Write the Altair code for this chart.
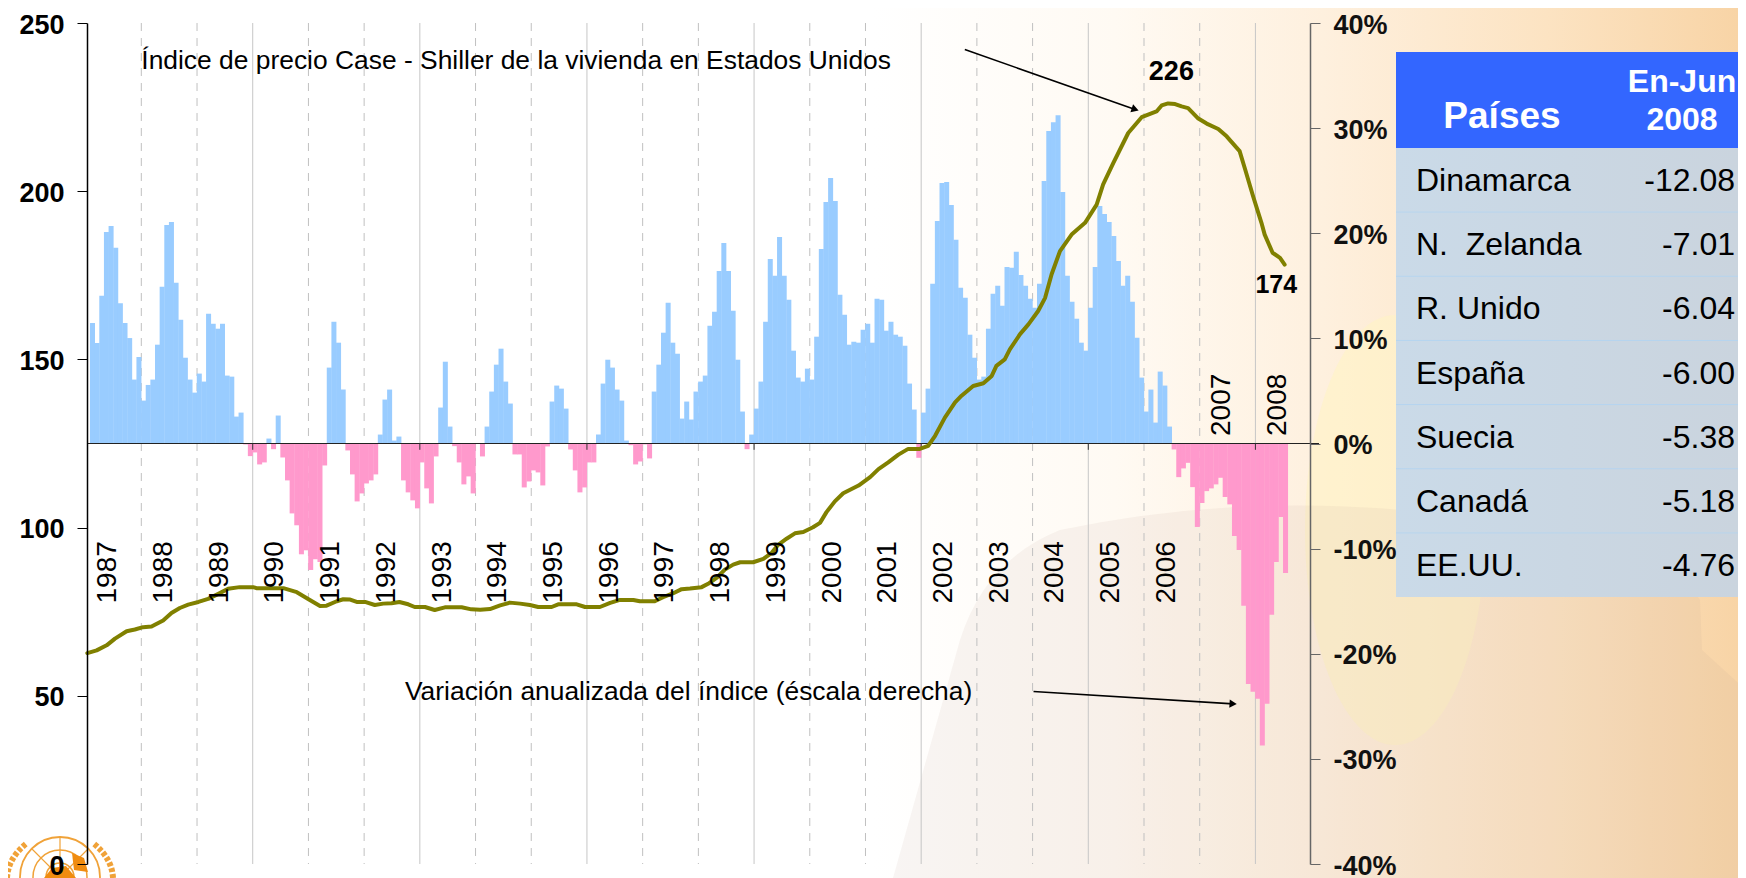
import altair as alt
import pandas as pd

# ---------- data ----------
variacion = [
 11.46,9.56,14.05,20.13,20.70,18.61,13.35,11.46,10.03,6.08,8.23,4.08,5.57,6.08,9.40,14.91,20.79,21.08,15.28,11.77,
 8.16,6.08,4.84,6.65,5.89,12.34,11.39,10.92,11.39,6.46,6.36,2.56,2.94,-0.09,-1.20,-0.85,-1.99,-1.80,0.47,-0.54,
 2.66,-1.33,-3.51,-6.65,-7.78,-10.54,-10.16,-12.03,-11.01,-11.27,-2.09,7.22,11.58,9.59,5.13,-0.66,-2.94,-5.51,-4.75,-3.80,
 -3.51,-2.94,0.85,4.18,5.13,0.28,0.66,-3.51,-4.65,-5.41,-6.17,-1.80,-4.27,-5.70,-1.23,3.42,7.78,1.61,-0.25,-1.80,
 -3.89,-3.13,-4.75,0,-1.23,1.61,4.94,7.50,9.02,5.89,3.80,-1.04,-1.04,-4.18,-3.61,-2.56,-2.75,-3.99,-0.28,3.99,
 5.51,5.22,3.32,-0.57,-2.56,-4.65,-4.18,-1.80,-1.80,0.85,5.70,7.97,7.22,5.13,4.08,0.28,-0.16,-1.99,-1.71,-0.09,
 -1.42,4.94,7.50,10.54,13.39,9.59,8.54,2.37,3.99,2.28,4.94,5.89,6.46,11.20,12.53,16.42,19.08,16.42,12.63,7.97,
 3.04,-0.54,0.85,3.32,5.89,11.58,17.56,15.95,19.65,15.95,13.67,8.83,6.27,5.89,7.12,6.08,10.16,18.51,22.97,25.25,
 23.07,14.15,12.25,9.40,9.68,9.59,10.82,11.39,9.59,13.77,13.67,10.73,11.58,10.35,10.16,9.30,5.70,3.23,-1.36,2.94,
 5.22,15.19,21.17,24.78,24.87,22.69,19.37,14.81,13.86,10.35,8.16,6.08,6.36,10.92,14.24,15.00,13.10,16.80,16.71,18.23,
 16.04,15.00,13.77,12.91,15.19,24.97,29.72,30.57,31.23,23.92,15.95,13.48,11.87,9.59,8.83,12.91,16.80,22.59,21.84,21.08,
 19.75,17.37,15.00,15.95,13.48,10.06,6.27,3.04,5.13,1.99,6.84,5.51,1.61,-0.57,-3.20,-2.37,-1.84,-4.15,-7.94,-5.66,
 -4.53,-4.27,-3.89,-3.26,-5.09,-5.79,-8.80,-10.13,-15.44,-22.88,-23.61,-24.27,-28.73,-24.75,-16.30,-11.27,-6.99,-12.31,
]
mes_inicio = 0.95  # first bar begins here on the month axis

indice_mes = [0.37,2.38,4.53,6.33,8.84,10.6,12.4,14.2,16.7,18.5,20.3,22.1,24.3,26.4,28.6,30.7,33.2,36.1,36.8,42.6,
 45.5,48.3,50.5,51.9,54.1,55.5,57,58.4,60.2,62.3,64.1,65.9,67.6,69.5,70.9,73.1,75.2,77.4,81,83.1,85,87.1,89.3,91.4,
 93.6,95.7,97.5,100.4,101.8,105.8,107.6,110.8,113,115.1,118,119.4,122.6,124.4,126.6,128.4,130.2,132.7,134.1,136,137.7,
 139.5,141,143.8,146,147.8,149.2,151,152.8,154.6,156.7,158.2,159.6,161.4,163.2,166.5,169,170.8,172.9,175.1,177.2,
 179.7,181.5,183,185.1,187.3,188.7,191.2,193.4,195.2,196.2,198,199.1,201.3,203.1,205.2,206.7,208.1,209.9,212.4,215.3,
 217.8,219.2,221.4,224.6,227.5,230.7,231.8,233.2,234.7,236.1,237.5,239.7,241.5,244,245.8,248.6,249.7,251.5,253.3,254,
 255.7,257.3,258.3]
indice_valor = [62.7,63.5,65.0,67.0,69.2,69.7,70.4,70.6,72.4,74.6,76.1,77.1,77.9,78.8,80.3,81.8,82.3,82.3,82.0,82.0,
 80.8,78.5,76.7,76.8,78.1,78.7,78.6,77.9,77.9,77.0,77.4,77.5,77.9,77.2,76.4,76.4,75.5,76.3,76.3,75.7,75.6,75.8,76.9,77.7,
 77.4,77.0,76.4,76.4,77.2,77.2,76.4,76.4,77.6,78.5,78.5,78.1,78.1,79.3,80.5,81.7,81.9,82.3,83.3,85.1,87.5,
 89.0,89.7,89.7,90.7,92.5,94.9,96.7,98.3,98.7,100.1,101.4,104.6,107.8,110.2,112.5,115,117.4,119.4,121.7,123.4,
 123.4,124.3,127.3,132.7,137.2,139.2,142.1,142.9,145.1,148.1,150.0,153,157.5,160.4,164.4,168.3,175.3,182.2,187.1,190.6,
 196,202,208.4,217.3,222,223.7,225.5,226.1,225.9,225.2,224.7,221.6,220.1,218.5,216.3,211.9,206.9,198.5,190.6,187.1,
 181.7,180.2,178.2]

anios = list(range(1987, 2009))
anios_y = [86.7] * 20 + [136.5, 136.5]
rejilla_solida = [1990, 1993, 1996, 1999, 2002, 2005, 2008]
rejilla_puntos = [a for a in range(1988, 2008) if a not in rejilla_solida]

paises = ["Dinamarca", "N.\u00a0 Zelanda", "R. Unido", "España", "Suecia", "Canadá", "EE.UU."]
paises_val = ["-12.08", "-7.01", "-6.04", "-6.00", "-5.38", "-5.18", "-4.76"]

notas = [
 {"m": 12.0, "v": 238.6, "t": "Índice de precio Case - Shiller de la vivienda en Estados Unidos"},
 {"m": 68.8, "v": 51.2, "t": "Variación anualizada del índice (éscala derecha)"},
]
flechas = [
 {"m": 189.4, "v": 242.1, "m2": 226.1, "v2": 224.3, "ang": 18.7},
 {"m": 204.2, "v": 51.3, "m2": 247.2, "v2": 47.6, "ang": 3.4},
]
etiquetas = [
 {"m": 233.9, "v": 235.3, "t": "226", "s": 27},
 {"m": 256.5, "v": 172.1, "t": "174", "s": 25},
]

# ---------- tables ----------
barras = pd.DataFrame({"m": [mes_inicio + i for i in range(len(variacion))], "pct": variacion})
barras["m2"] = barras["m"] + 1.08
barras["base"] = 0.0
linea = pd.DataFrame({"m": indice_mes, "v": indice_valor})
anos_df = pd.DataFrame({"m": [(a - 1987) * 12 + 4.9 for a in anios], "v": anios_y, "t": [str(a) for a in anios]})
sol = pd.DataFrame({"m": [(a - 1987) * 12 for a in rejilla_solida]})
pun = pd.DataFrame({"m": [(a - 1987) * 12 for a in rejilla_puntos]})
ticks0 = pd.DataFrame({"m": [(a - 1987) * 12 for a in [1990, 1993, 1996, 1999, 2002, 2005, 2008]], "a": 0.0, "b": -0.6})
tabla = pd.DataFrame({"p": paises, "n": paises_val})
uno = pd.DataFrame({"a": [0]})

FONT = "Liberation Sans"
OX, OY = 87, 23                # plot origin on the page
CW = 1730                      # widest the page lets the drawing be without shrinking it
SX = alt.Scale(domain=[0.30, 263.76], nice=False, zero=False)
SL = alt.Scale(domain=[0, 250], nice=False)
SR = alt.Scale(domain=[-40, 40], nice=False)
ST = alt.Scale(type="band", domain=paises, range=[148 - OY, 597 - OY], paddingInner=0, paddingOuter=0)
X = alt.X("m:Q", scale=SX, axis=None)
YL = alt.Y("v:Q", scale=SL, axis=None)
YR = alt.Y("pct:Q", scale=SR, axis=None)
YT = alt.Y("p:N", scale=ST, axis=None, sort=paises)


def pagina(x, y):
    return {"x": alt.value(x - OX), "y": alt.value(y - OY)}


def forma(path, **kw):
    """A hand-drawn decoration, path given in page pixels."""
    kw.setdefault("opacity", 1)
    return alt.Chart(uno).mark_point(shape=path, size=4, **kw).encode(**pagina(0, 0))


def forma_en(cx, cy, path, **kw):
    kw.setdefault("opacity", 1)
    return alt.Chart(uno).mark_point(shape=path, size=4, **kw).encode(**pagina(cx, cy))


def circulo(r):
    return f"M{-r},0A{r},{r} 0 1,1 {r},0A{r},{r} 0 1,1 {-r},0Z"


def degradado(*pares):
    return alt.LinearGradient(gradient="linear", x1=0, x2=1, y1=0, y2=0,
                              stops=[alt.GradientStop(offset=o, color=c) for o, c in pares])


# ---------- background ----------
fondo = alt.Chart(uno).mark_rect(
    fill=degradado((0, "#ffffff"), (0.5, "#ffffff"), (0.64, "#fffaf3"), (0.76, "#fef0de"), (0.89, "#fce3c2"), (1, "#f8d4a6"))
).encode(x=alt.value(8 - OX), x2=alt.value(8 + CW - OX), y=alt.value(8 - OY), y2=alt.value(878 - OY))

elipse = forma_en(1395, 530, "M-90,0A90,215 0 1,1 90,0A90,215 0 1,1 -90,0Z",
                  filled=True, fill="#fff3c4", opacity=0.6)
fondo_bajo = forma("M893,878L960,640Q985,560 1060,530Q1250,490 1450,515Q1660,540 1700,600L1702,650L1746,690L1746,878Z",
                   filled=True, fill="#b8a090", opacity=0.1)

# ---------- UN emblem ----------
NAR = "#f0a238"
logo = [
    forma_en(60, 877, circulo(40), filled=False, stroke=NAR, strokeWidth=1.8),
    forma_en(60, 877, circulo(27), filled=False, stroke=NAR, strokeWidth=1.5),
    forma_en(60, 877, circulo(14), filled=False, stroke=NAR, strokeWidth=1.5),
    forma_en(60, 877, "M0,-40L0,0M-28,-28L28,28M28,-28L-28,28", filled=False, stroke=NAR, strokeWidth=1.2),
    forma("M72,853L84,858L88,872L74,870Z", filled=True, fill="#f08c10"),
    forma("M44,878L52,868L66,866L76,878Z", filled=True, fill="#f08c10"),
    forma("M7,878Q8,858 27,843", filled=False, stroke=NAR, strokeWidth=6, strokeDash=[4, 2]),
    forma("M113,878Q112,858 93,843", filled=False, stroke=NAR, strokeWidth=6, strokeDash=[4, 2]),
]

# ---------- grid ----------
gsol = alt.Chart(sol).mark_rule(color="#c6c6c6", strokeWidth=1).encode(x=X, y=alt.value(0), y2=alt.value(841))
gpun = alt.Chart(pun).mark_rule(color="#c0c0c0", strokeWidth=1, strokeDash=[8, 7]).encode(x=X, y=alt.value(0), y2=alt.value(841))

# ---------- bars ----------
bar = alt.Chart(barras).mark_bar(strokeWidth=0).encode(
    x=X, x2="m2:Q",
    y=alt.Y("pct:Q", scale=SR, axis=alt.Axis(
        orient="right", values=[-40, -30, -20, -10, 0, 10, 20, 30, 40], labelExpr="datum.value + '%'",
        title=None, grid=False, domainColor="#666666", tickColor="#666666", domainWidth=1.5, tickSize=10,
        labelFont=FONT, labelFontWeight="bold", labelFontSize=27, labelColor="#111111",
        labelPadding=13, labelOffset=2, zindex=1, labelOverlap=False, labelBound=False, labelFlush=False)),
    y2="base:Q",
    color=alt.condition("datum.pct >= 0", alt.value("#99ccff"), alt.value("#ff99cc")),
)

cero = alt.Chart(uno).mark_rule(color="#222222", strokeWidth=1).encode(
    x=alt.value(0), x2=alt.value(1232), y=alt.Y(datum=0, scale=SR, axis=None))
marcas = alt.Chart(ticks0).mark_rule(color="#333333", strokeWidth=1).encode(
    x=X, y=alt.Y("a:Q", scale=SR, axis=None), y2="b:Q")

# ---------- index line ----------
lin = alt.Chart(linea).mark_line(color="#808000", strokeWidth=4, strokeJoin="round", strokeCap="round").encode(
    x=X,
    y=alt.Y("v:Q", scale=SL, axis=alt.Axis(
        orient="left", values=[0, 50, 100, 150, 200, 250], title=None, grid=False,
        domainColor="#000000", tickColor="#000000", domainWidth=1.5, tickSize=10,
        labelFont=FONT, labelFontWeight="bold", labelFontSize=27, labelColor="#000000",
        labelPadding=13, labelOffset=2, zindex=1, labelOverlap=False, labelBound=False, labelFlush=False)),
)

# ---------- year labels and notes ----------
tanos = alt.Chart(anos_df).mark_text(font=FONT, fontSize=28, angle=270, align="center", baseline="middle", color="#000000").encode(
    x=X, y=YL, text="t:N")
tnotas = alt.Chart(pd.DataFrame(notas)).mark_text(font=FONT, fontSize=26.4, align="left", baseline="middle", color="#000000").encode(
    x=X, y=YL, text="t:N")
tetiq = alt.Chart(pd.DataFrame(etiquetas)).mark_text(font=FONT, fontWeight="bold", align="center", baseline="middle", color="#000000").encode(
    x=X, y=YL, text="t:N", size=alt.Size("s:Q", scale=None, legend=None))
fl_df = pd.DataFrame(flechas)
fl = alt.Chart(fl_df).mark_rule(color="#000000", strokeWidth=1.6).encode(x=X, x2="m2:Q", y=YL, y2="v2:Q")
cabeza = alt.Chart(fl_df).mark_point(shape="triangle-right", filled=True, size=70, color="#000000", opacity=1).encode(
    x=alt.X("m2:Q", scale=SX, axis=None), y=alt.Y("v2:Q", scale=SL, axis=None),
    angle=alt.Angle("ang:Q", scale=None))

# ---------- table ----------
cab = alt.Chart(uno).mark_rect(fill="#3366ff").encode(
    x=alt.value(1396 - OX), x2=alt.value(8 + CW - OX), y=alt.value(52 - OY), y2=alt.value(148 - OY))
filas = alt.Chart(tabla).mark_rect(
    fill=degradado((0, "#cadae8"), (1, "#cad4de"))
).encode(x=alt.value(1396 - OX), x2=alt.value(8 + CW - OX), y=YT)
sep = alt.Chart(tabla.iloc[1:]).mark_rule(color="#b4d4f0", strokeWidth=1).encode(
    x=alt.value(1396 - OX), x2=alt.value(8 + CW - OX),
    y=alt.Y("p:N", scale=ST, axis=None, sort=paises, bandPosition=0))
t1 = alt.Chart(tabla).mark_text(font=FONT, fontSize=32, align="left", baseline="middle", color="#000000", dy=1).encode(
    x=alt.value(1416 - OX), y=YT, text="p:N")
t2 = alt.Chart(tabla).mark_text(font=FONT, fontSize=32, align="right", baseline="middle", color="#000000", dy=1).encode(
    x=alt.value(1735 - OX), y=YT, text="n:N")


def cabecera(txt, cx, cy, fs):
    return alt.Chart(uno).mark_text(text=txt, font=FONT, fontWeight="bold", fontSize=fs, color="#ffffff",
                                    align="center", baseline="middle").encode(**pagina(cx, cy))


capas = [fondo, elipse, fondo_bajo] + logo + [gsol, gpun, bar, cero, marcas, lin, fl, cabeza, tanos, tnotas, tetiq,
         cab, filas, sep, t1, t2,
         cabecera("Países", 1502, 117, 37), cabecera("En-Jun", 1682, 82, 32), cabecera("2008", 1682, 120, 32)]

chart = alt.layer(*capas).resolve_scale(y="independent").properties(
    width=1223, height=841,
    padding={"left": OX - 8, "top": OY - 8, "right": CW - (OX - 8) - 1223, "bottom": 870 - (OY - 8) - 841},
    autosize=alt.AutoSizeParams(type="none", contains="content"),
    background="#ffffff",
).configure_view(stroke=None)

chart.save("out.html", embed_options={"renderer": "svg", "actions": False})
